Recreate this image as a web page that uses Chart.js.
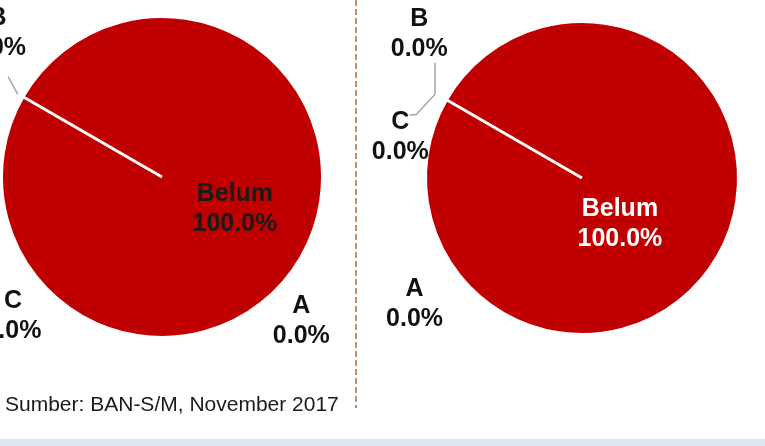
<!DOCTYPE html>
<html>
<head>
<meta charset="utf-8">
<script src="https://cdn.jsdelivr.net/npm/chart.js@4.4.0/dist/chart.umd.min.js"></script>
<style>
  html, body { margin: 0; padding: 0; background: #fff; }
  body { width: 765px; height: 446px; position: relative; overflow: hidden; font-family: Arial, "Liberation Sans", sans-serif; }
  .box { position: absolute; }
  #boxLeft { left: 0; top: 0; width: 355px; height: 400px; }
  #boxRight { left: 357px; top: 0; width: 408px; height: 400px; }
  #divider { position: absolute; left: 355px; top: 0; width: 2px; height: 408px;
    background: repeating-linear-gradient(to bottom, #c4906a 0 6px, transparent 6px 9px); }
  #source { position: absolute; left: 5px; top: 392px; font-size: 21px; color: #1a1a1a; white-space: nowrap; }
  #band { position: absolute; left: 0; top: 439px; width: 765px; height: 7px; background: #dde8f4; }
</style>
</head>
<body>
<div class="box" id="boxLeft"><canvas id="chartLeft"></canvas></div>
<div class="box" id="boxRight"><canvas id="chartRight"></canvas></div>
<div id="divider"></div>
<div id="source">Sumber: BAN-S/M, November 2017</div>
<div id="band"></div>

<script>
// data
const categories = ['Belum', 'A', 'B', 'C'];
const valuesLeft = [100, 0, 0, 0];
const valuesRight = [100, 0, 0, 0];
const sliceColors = ['#c00000', '#c00000', '#c00000', '#c00000'];

// label placement, as offsets in radius units from the pie centre
const labelPosLeft = {
    Belum: [0.45, 0.20],
    A: [0.86, 0.89],
    B: [-1.015, -0.89],
    C: [-0.92, 0.86]
};
const labelPosRight = {
    Belum: [0.24, 0.29],
    A: [-1.06, 0.80],
    B: [-1.03, -0.91],
    C: [-1.15, -0.26]
};
const leaderLeft = [[-0.95, -0.62], [-0.89, -0.51]];
const leaderRight = [[-0.93, -0.73], [-0.93, -0.53], [-1.05, -0.40], [-1.09, -0.40]];

// draws the "name / pct" labels and the leader lines
const pieLabels = {
    id: 'pieLabels',
    afterDatasetsDraw(chart, args, opts) {
        const ctx = chart.ctx;
        const arc = chart.getDatasetMeta(0).data[0];
        const cx = arc.x, cy = arc.y, r = arc.outerRadius + 1.5;
        const vals = chart.data.datasets[0].data;
        const total = vals.reduce((a, b) => a + b, 0);

        ctx.save();
        if (opts.leader) {
            ctx.strokeStyle = '#a6a6a6';
            ctx.lineWidth = 1.5;
            ctx.beginPath();
            opts.leader.forEach((p, i) => {
                const px = cx + p[0] * r, py = cy + p[1] * r;
                if (i === 0) ctx.moveTo(px, py); else ctx.lineTo(px, py);
            });
            ctx.stroke();
        }
        ctx.font = 'bold 25px Arial, "Liberation Sans", sans-serif';
        ctx.textAlign = 'center';
        ctx.textBaseline = 'middle';
        chart.data.labels.forEach((lab, i) => {
            const pos = opts.pos[lab];
            if (!pos) return;
            const x = cx + pos[0] * r, y = cy + pos[1] * r;
            ctx.fillStyle = lab === 'Belum' ? opts.mainColor : '#111';
            const pct = (vals[i] / total * 100).toFixed(1) + '%';
            ctx.fillText(lab, x, y - 15);
            ctx.fillText(pct, x, y + 15);
        });
        ctx.restore();
    }
};

function makePie(id, values, padding, pos, leader, mainColor) {
    return new Chart(document.getElementById(id), {
        type: 'pie',
        data: {
            labels: categories,
            datasets: [{
                data: values,
                backgroundColor: sliceColors,
                borderColor: '#ffffff',
                borderWidth: 3
            }]
        },
        options: {
            responsive: true,
            maintainAspectRatio: false,
            animation: false,
            rotation: -60,
            layout: { padding: padding },
            plugins: {
                legend: { display: false },
                tooltip: { enabled: false },
                pieLabels: { pos: pos, leader: leader, mainColor: mainColor }
            }
        },
        plugins: [pieLabels]
    });
}

makePie('chartLeft', valuesLeft, { left: 0, right: 31, top: 15, bottom: 61 }, labelPosLeft, leaderLeft, '#1a1a1a');
makePie('chartRight', valuesRight, { left: 67, right: 25, top: 20, bottom: 64 }, labelPosRight, leaderRight, '#ffffff');
</script>
</body>
</html>
